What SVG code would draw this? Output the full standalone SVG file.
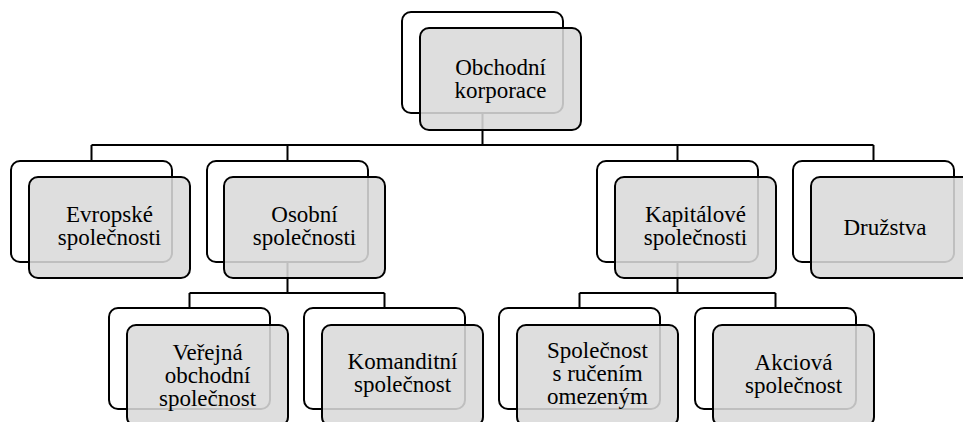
<svg xmlns="http://www.w3.org/2000/svg" width="963" height="422" viewBox="0 0 963 422">
<style>
.bg{fill:#ffffff}
.back{fill:#ffffff;stroke:#000000;stroke-width:2}
.front{fill:#d9d9d9;fill-opacity:0.88;stroke:#000000;stroke-width:2}
.conn{fill:none;stroke:#000000;stroke-width:2}
.lbl{font-family:'Liberation Serif','Times New Roman',serif;font-size:23px;fill:#000000;text-anchor:middle}
</style>
<rect class="bg" x="0" y="0" width="963" height="422"/>
<g id="connectors">
<path class="conn" d="M482.5 113 V145 M91.5 145 H873.5 M91.5 145 V161 M287.5 145 V161 M677.5 145 V161 M873.5 145 V161"/>
<path class="conn" d="M287.5 262 V293 M189.5 293 H384.5 M189.5 293 V308 M384.5 293 V308"/>
<path class="conn" d="M677.5 262 V293 M579.5 293 H775.5 M579.5 293 V308 M775.5 293 V308"/>
</g>
<g id="n-obchodni">
<rect class="back" x="402" y="12" width="161" height="101" rx="9"/>
<rect class="front" x="420" y="28" width="161" height="102" rx="9"/>
<text class="lbl" x="500.5" y="75">Obchodní</text>
<text class="lbl" x="500.5" y="98">korporace</text>
</g>
<g id="n-evropske">
<rect class="back" x="11" y="161" width="161" height="101" rx="9"/>
<rect class="front" x="29" y="177" width="161" height="101" rx="9"/>
<text class="lbl" x="109.5" y="222">Evropské</text>
<text class="lbl" x="109.5" y="245">společnosti</text>
</g>
<g id="n-osobni">
<rect class="back" x="207" y="161" width="161" height="101" rx="9"/>
<rect class="front" x="224" y="177" width="161" height="101" rx="9"/>
<text class="lbl" x="304.5" y="222">Osobní</text>
<text class="lbl" x="304.5" y="245">společnosti</text>
</g>
<g id="n-kapitalove">
<rect class="back" x="597" y="161" width="161" height="101" rx="9"/>
<rect class="front" x="615" y="177" width="161" height="101" rx="9"/>
<text class="lbl" x="695.5" y="222">Kapitálové</text>
<text class="lbl" x="695.5" y="245">společnosti</text>
</g>
<g id="n-druzstva">
<rect class="back" x="793" y="161" width="161" height="101" rx="9"/>
<rect class="front" x="811" y="177" width="161" height="101" rx="9"/>
<text class="lbl" x="885" y="235">Družstva</text>
</g>
<g id="n-verejna">
<rect class="back" x="109" y="308" width="161" height="101" rx="9"/>
<rect class="front" x="127" y="325" width="161" height="101" rx="9"/>
<text class="lbl" x="207.5" y="360">Veřejná</text>
<text class="lbl" x="207.5" y="383">obchodní</text>
<text class="lbl" x="207.5" y="406">společnost</text>
</g>
<g id="n-komanditni">
<rect class="back" x="304" y="308" width="161" height="101" rx="9"/>
<rect class="front" x="322" y="325" width="161" height="101" rx="9"/>
<text class="lbl" x="402.5" y="369">Komanditní</text>
<text class="lbl" x="402.5" y="392">společnost</text>
</g>
<g id="n-sro">
<rect class="back" x="499" y="308" width="161" height="101" rx="9"/>
<rect class="front" x="517" y="325" width="161" height="101" rx="9"/>
<text class="lbl" x="597.5" y="358">Společnost</text>
<text class="lbl" x="597.5" y="381">s ručením</text>
<text class="lbl" x="597.5" y="404">omezeným</text>
</g>
<g id="n-akciova">
<rect class="back" x="695" y="308" width="161" height="101" rx="9"/>
<rect class="front" x="713" y="325" width="161" height="101" rx="9"/>
<text class="lbl" x="793.5" y="370">Akciová</text>
<text class="lbl" x="793.5" y="393">společnost</text>
</g>
</svg>
